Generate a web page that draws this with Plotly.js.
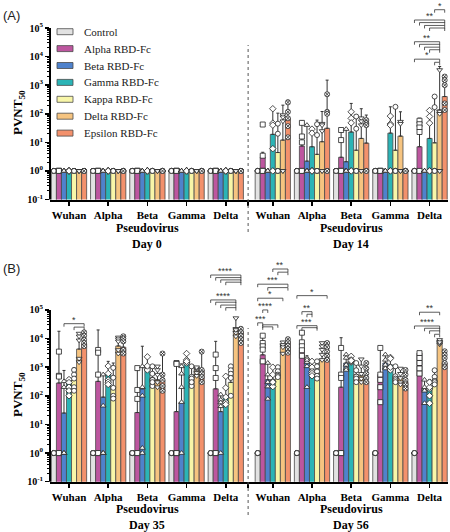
<!DOCTYPE html>
<html><head><meta charset="utf-8">
<script src="https://cdn.plot.ly/plotly-3.0.1.min.js"></script>
<style>html,body{margin:0;padding:0;background:#fff;} #chart{width:450px;height:532px;}</style>
</head><body><div id="chart"></div>
<script>
// ---------- categories / series ----------
const seriesNames = ['Control','Alpha RBD-Fc','Beta RBD-Fc','Gamma RBD-Fc','Kappa RBD-Fc','Delta RBD-Fc','Epsilon RBD-Fc'];
const seriesColors = ['#e2e2e2','#bd569f','#4f82cc','#2bb4b6','#f8f6a8','#f6c480','#f3916c'];
const seriesSymbols = ['circle','square','triangle-up','diamond','circle','triangle-down','circle-x'];
const pseudoviruses = ['Wuhan','Alpha','Beta','Gamma','Delta'];
const groupPos = [0,1,2,3,4,5.2,6.2,7.2,8.2,9.2];
const dividerPos = 4.57;
const daysA = ['Day 0','Day 14'];
const daysB = ['Day 35','Day 56'];
const yTickVals = [0.1,1,10,100,1000,10000,100000];
const yTickText = ['10<sup>-1</sup>','10<sup>0</sup>','10<sup>1</sup>','10<sup>2</sup>','10<sup>3</sup>','10<sup>4</sup>','10<sup>5</sup>'];

// ---------- Panel A (Day 0 groups 0-4, Day 14 groups 5-9) ----------
const aMeanControl = [1,1,1,1,1, 1,1,1,1,1];
const aMeanAlpha   = [1,1,1,1,1, 3,7.4,3,1,7];
const aMeanBeta    = [1,1,1,1,1, 1,2.2,2.1,1,1];
const aMeanGamma   = [1,1,1,1,1, 19,7,23,21,13.7];
const aMeanKappa   = [1,1,1,1,1, 4.4,3.8,5.3,5.3,9.6];
const aMeanDelta   = [1,1,1,1,1, 12,10.5,13.7,16.5,135];
const aMeanEpsilon = [1,1,1,1,1, 70,31,9.4,1,400];

const aTopControl = [null,null,null,null,null, null,null,null,null,null];
const aTopAlpha   = [null,null,null,null,null, 4.5,57,31,null,70];
const aTopBeta    = [null,null,null,null,null, null,40,30,null,null];
const aTopGamma   = [null,null,null,null,null, 150,32,230,175,130];
const aTopKappa   = [null,null,null,null,null, 105,60,90,190,400];
const aTopDelta   = [null,null,null,null,null, 200,120,150,117,4500];
const aTopEpsilon = [null,null,null,null,null, 300,1500,90,null,1500];

const ones = [1,1,1,1,1];
const aPtsControl = [ones,ones,ones,ones,ones, ones,ones,ones,ones,ones];
const aPtsAlpha   = [ones,ones,ones,ones,ones, [42,3.4,1,1,1],[48,16,10,1,1],[27,12,1,1,1],ones,[57,43,33,23,1]];
const aPtsBeta    = [ones,ones,ones,ones,ones, ones,[40,1,1,1,1],[29,1,1,1,1],ones,ones];
const aPtsGamma   = [ones,ones,ones,ones,ones, [150,47,40,6,1],[29,21,1,1,1],[117,69,48,1,1],[83,44,40,1,1],[130,80,47,1,1]];
const aPtsKappa   = [ones,ones,ones,ones,ones, [45,20,1,1,1],[43,18,1,1,1],[80,30,1,1,1],[175,1,1,1,1],[400,170,1,1,1]];
const aPtsDelta   = [ones,ones,ones,ones,ones, [90,76,55,1,1],[45,40,25,1,1],[70,55,40,1,1],[53,45,1,1,1],[3400,120,100,1,1]];
const aPtsEpsilon = [ones,ones,ones,ones,ones, [250,117,69,37,15],[480,117,100,1,1],[60,47,40,1,1],ones,[2000,1500,1000,230,135]];

// ---------- Panel B (Day 35 groups 0-4, Day 56 groups 5-9) ----------
const bMeanControl = [1,1,1,1,1, 1,1,1,1,1];
const bMeanAlpha   = [280,320,26,28,175, 2700,4100,200,550,3100];
const bMeanBeta    = [25,90,175,59,28, 365,1800,1400,1400,175];
const bMeanGamma   = [280,590,1070,1800,95, 365,820,1800,1200,175];
const bMeanKappa   = [370,210,420,450,295, 630,710,550,480,365];
const bMeanDelta   = [4300,5500,360,810,22000, 5600,1800,500,420,8000];
const bMeanEpsilon = [6600,5000,350,800,18000, 8000,1900,320,320,1400];

const bTopControl = [null,null,null,null,null, null,null,null,null,null];
const bTopAlpha   = [18000,20000,930,1400,8000, 12600,16000,10700,4700,3100];
const bTopBeta    = [770,550,5400,1300,110, 1400,2500,2750,2750,360];
const bTopGamma   = [430,1600,2300,3000,460, 1000,1600,2500,2200,360];
const bTopKappa   = [940,1400,1070,1070,1070, 1100,1600,1400,1070,780];
const bTopDelta   = [15000,11000,1070,1000,52000, 8000,7400,1900,900,9000];
const bTopEpsilon = [16000,12000,3000,3500,25000, 11000,7000,1400,800,3600];

const bPtsControl = [ones,ones,ones,ones,ones, ones,ones,ones,ones,ones];
const bPtsAlpha   = [[3500,500,470,1,1],[4000,3200,550,1,1],[930,160,78,1,1],[1400,1300,1,1,1],[2750,930,420,1,1],
                     [12600,7000,5400,4100,1600],[16000,7400,5400,3900,2500],[4700,550,420,1,1],[4700,550,360,200,60],[3100,2100,1400,900,600]];
const bPtsBeta    = [[320,200,1,1,1],[550,45,1,1,1],[1070,200,100,1.5,1],[1070,590,200,60,1],[110,72,58,43,1],
                     [1400,550,210,78,300],[2100,1070,200,1500,1800],[2750,2100,1200,900,800],[2750,1800,1000,900,1200],[360,175,55,150,200]];
const bPtsGamma   = [[370,290,200,150,100],[1100,600,360,300,250],[2300,1000,900,800,1100],[3000,1800,1500,1400,1600],[480,190,60,50,90],
                     [1000,550,320,210,300],[1600,1000,700,600,500],[2400,1500,1800,1600,1700],[2200,2000,900,800,1000],[175,100,55,200,300]];
const bPtsKappa   = [[800,550,400,200,150],[950,430,190,100,80],[1070,590,360,220,300],[1070,460,220,400,300],[1070,780,590,420,100],
                     [1000,720,550,500,450],[1600,1070,710,500,400],[1400,780,470,400,300],[1070,480,400,350,300],[780,460,330,300,250]];
const bPtsDelta   = [[15000,12000,8700,2000,1500],[11000,9500,8000,4000,3000],[1070,800,550,300,200],[800,630,500,900,1000],[52000,22000,16000,12000,20000],
                     [7400,5600,3000,6000,5000],[7000,5400,4100,2750,1800],[1900,1070,590,400,300],[900,590,420,300,250],[8000,6300,9000,7000,7500]];
const bPtsEpsilon = [[16500,12600,9100,7000,5400],[12000,10000,8000,4000,3000],[3000,550,360,220,150],[3500,800,600,450,300],[22000,16600,12600,9500,7000],
                     [9500,7400,5600,4300,3200],[7000,5000,3500,2500,1800],[1400,900,600,420,300],[800,550,360,250,180],[3600,2700,2100,1400,1000]];

// significance brackets: [group index, series from, series to, log10 height, label]
const bracketsA = [
  [9,4,6,5.64,'*'],
  [9,0,6,5.28,'**'],[9,1,6,5.19,''],[9,2,6,5.09,''],[9,3,6,5.00,''],
  [9,0,5,4.52,'**'],[9,1,5,4.43,''],[9,2,5,4.33,''],[9,3,5,4.24,''],
  [9,0,5,3.91,'*'],[9,4,5,3.80,'']
];
const bracketsB = [
  [0,2,6,4.52,'*'],[0,4,6,4.40,''],
  [4,0,6,6.22,'****'],[4,1,6,6.13,''],[4,2,6,6.05,''],[4,3,6,5.97,''],
  [4,0,5,5.35,'****'],[4,1,5,5.27,''],[4,2,5,5.17,''],[4,3,5,5.08,''],
  [5,3,6,6.43,'**'],[5,4,6,6.32,''],
  [5,0,6,5.90,'***'],[5,2,6,5.78,''],
  [5,0,5,5.41,'*'],
  [5,1,2,5.00,'****'],
  [5,0,1,4.55,'***'],[5,1,4,4.48,''],[5,1,3,4.41,''],
  [6,0,6,5.50,'*'],
  [6,1,3,4.94,'**'],[6,2,3,4.85,''],
  [6,0,4,4.45,'***'],[6,1,4,4.38,''],
  [9,1,5,4.92,'**'],
  [9,0,5,4.44,'****'],[9,2,5,4.36,''],[9,3,5,4.27,''],[9,4,5,4.15,'']
];

// ---------- geometry ----------
const W = 450, H = 532;
const xDom = [50/W, 448/W];
const xRange = [-0.485, 9.67];
const domA = [0.625, 1.0], rangeA = [-1, 5.98];
const domB = [0.0946, 0.5207], rangeB = [-1, 6.92];
const bargap = 0.1;
const bw = (1 - bargap) / seriesNames.length;
const serif = 'Liberation Serif, Times New Roman, serif';

function yPaper(dom, rng, lg){ return dom[0] + (lg - rng[0]) / (rng[1] - rng[0]) * (dom[1] - dom[0]); }
function pxToPaper(px){ return 1 - px / H; }
function sx(g, s){ return groupPos[g] + (s - (seriesNames.length - 1) / 2) * bw; }

const panels = [
  {xa:'x', ya:'y', dom:domA, rng:rangeA,
   means:[aMeanControl,aMeanAlpha,aMeanBeta,aMeanGamma,aMeanKappa,aMeanDelta,aMeanEpsilon],
   tops:[aTopControl,aTopAlpha,aTopBeta,aTopGamma,aTopKappa,aTopDelta,aTopEpsilon],
   pts:[aPtsControl,aPtsAlpha,aPtsBeta,aPtsGamma,aPtsKappa,aPtsDelta,aPtsEpsilon],
   brackets:bracketsA},
  {xa:'x2', ya:'y2', dom:domB, rng:rangeB,
   means:[bMeanControl,bMeanAlpha,bMeanBeta,bMeanGamma,bMeanKappa,bMeanDelta,bMeanEpsilon],
   tops:[bTopControl,bTopAlpha,bTopBeta,bTopGamma,bTopKappa,bTopDelta,bTopEpsilon],
   pts:[bPtsControl,bPtsAlpha,bPtsBeta,bPtsGamma,bPtsKappa,bPtsDelta,bPtsEpsilon],
   brackets:bracketsB}
];

const traces = [];
const shapes = [];
const annotations = [];

panels.forEach(function(p){
  for (let s = 0; s < seriesNames.length; s++){
    const mean = p.means[s];
    const err = p.tops[s].map(function(t, i){ return t == null ? null : t - mean[i]; });
    traces.push({
      type:'bar', name:seriesNames[s], x:groupPos, y:mean, xaxis:p.xa, yaxis:p.ya,
      legendgroup:seriesNames[s], showlegend:false,
      marker:{color:seriesColors[s], line:{color:'#4a4a4a', width:0.8}},
      error_y:{type:'data', array:err, symmetric:false, arrayminus:mean.map(function(){return 0;}),
               color:'#333', thickness:1, width:1.5},
      hoverinfo:'skip'
    });
  }
  for (let s = 0; s < seriesNames.length; s++){
    const xs = [], ys = [];
    p.pts[s].forEach(function(arr, g){ arr.forEach(function(v){ xs.push(sx(g, s)); ys.push(v); }); });
    traces.push({
      type:'scatter', mode:'markers', x:xs, y:ys, xaxis:p.xa, yaxis:p.ya, showlegend:false,
      legendgroup:seriesNames[s], cliponaxis:false, hoverinfo:'skip',
      marker:{symbol:seriesSymbols[s], size:5, color:'#fff', line:{color:'#222', width:0.8}}
    });
  }
  shapes.push({type:'line', xref:'paper', yref:'paper', x0:xDom[0], x1:xDom[0],
               y0:yPaper(p.dom, p.rng, -1), y1:yPaper(p.dom, p.rng, 5), line:{color:'#000', width:2}});
  const tick = 3 / H;
  p.brackets.forEach(function(b){
    const x1 = sx(b[0], b[1]), x2 = sx(b[0], b[2]);
    const yp = yPaper(p.dom, p.rng, b[3]);
    shapes.push({type:'path', xref:p.xa, yref:'paper',
      path:'M '+x1+','+(yp-tick)+' L '+x1+','+yp+' L '+x2+','+yp+' L '+x2+','+(yp-tick),
      line:{color:'#333', width:0.8}});
    if (b[4]) annotations.push({xref:p.xa, yref:'paper', x:(x1+x2)/2, y:yp, xanchor:'center', yanchor:'bottom', yshift:-3,
      text:b[4], showarrow:false, font:{family:'Liberation Sans, Arial, sans-serif', size:9, color:'#333'}});
  });
});

// dotted dividers
shapes.push({type:'line', xref:'x', yref:'paper', x0:dividerPos, x1:dividerPos, y0:pxToPaper(232), y1:pxToPaper(45),
             line:{color:'#555', width:1, dash:'dot'}});
shapes.push({type:'line', xref:'x2', yref:'paper', x0:dividerPos, x1:dividerPos, y0:pxToPaper(515), y1:pxToPaper(328),
             line:{color:'#555', width:1, dash:'dot'}});

// manual legend (inside panel A)
seriesNames.forEach(function(name, s){
  const cy = 31.7 + s * 16.9;
  shapes.push({type:'rect', xref:'paper', yref:'paper', x0:57/W, x1:73/W, y0:pxToPaper(cy+3), y1:pxToPaper(cy-3),
               fillcolor:seriesColors[s], line:{color:'#4a4a4a', width:0.8}});
  annotations.push({xref:'paper', yref:'paper', x:82/W, y:pxToPaper(cy), xanchor:'left', yanchor:'middle',
    text:name, showarrow:false, font:{family:serif, size:11, color:'#222'}});
});

// text annotations
const halfCenters = [2, 7.2];
[['x', 228, 244, daysA], ['x2', 509, 525, daysB]].forEach(function(cfg){
  halfCenters.forEach(function(c, k){
    annotations.push({xref:cfg[0], yref:'paper', x:c, y:pxToPaper(cfg[1]), xanchor:'center', yanchor:'middle',
      text:'Pseudovirus', showarrow:false, font:{family:serif, size:12, weight:700, color:'#000'}});
    annotations.push({xref:cfg[0], yref:'paper', x:c, y:pxToPaper(cfg[2]), xanchor:'center', yanchor:'middle',
      text:cfg[3][k], showarrow:false, font:{family:serif, size:12, weight:700, color:'#000'}});
  });
});
[113, 395].forEach(function(py){
  annotations.push({xref:'paper', yref:'paper', x:19/W, y:pxToPaper(py), xanchor:'center', yanchor:'middle',
    text:'PVNT<sub>50</sub>', textangle:-90, showarrow:false, font:{family:serif, size:13, weight:700, color:'#000'}});
});
annotations.push({xref:'paper', yref:'paper', x:1/W, xanchor:'left', yanchor:'middle', y:pxToPaper(15), text:'(A)',
  showarrow:false, font:{family:'Liberation Sans, Arial, sans-serif', size:13, color:'#222'}});
annotations.push({xref:'paper', yref:'paper', x:1/W, xanchor:'left', yanchor:'middle', y:pxToPaper(268), text:'(B)',
  showarrow:false, font:{family:'Liberation Sans, Arial, sans-serif', size:13, color:'#222'}});

// axes
const minorVals = [];
for (let e = -1; e < 5; e++) for (let m = 2; m < 10; m++) minorVals.push(m * Math.pow(10, e));
function xAxis(anchor){
  return {domain:xDom, range:xRange, anchor:anchor, showline:true, linewidth:2, linecolor:'#000',
    tickmode:'array', tickvals:groupPos.concat([dividerPos]),
    ticktext:pseudoviruses.concat(pseudoviruses).concat([' ']),
    ticks:'outside', ticklen:4, tickwidth:1.5, tickcolor:'#000', showgrid:false, zeroline:false,
    tickfont:{family:serif, size:11, weight:700, color:'#000'}};
}
function yAxis(anchor, dom, rng){
  return {type:'log', domain:dom, range:rng, anchor:anchor, showline:false, showgrid:false, zeroline:false,
    tickmode:'array', tickvals:yTickVals, ticktext:yTickText, ticks:'outside', ticklen:4, tickwidth:1.5, tickcolor:'#000',
    tickfont:{family:serif, size:10, weight:700, color:'#000'},
    minor:{tickmode:'array', tickvals:minorVals, ticks:'outside', ticklen:2, tickwidth:1, tickcolor:'#000'}};
}

const layout = {
  width:W, height:H, margin:{l:0, r:0, t:0, b:0}, paper_bgcolor:'#fff', plot_bgcolor:'rgba(0,0,0,0)',
  barmode:'group', bargap:bargap, bargroupgap:0, showlegend:false,
  xaxis:xAxis('y'), yaxis:yAxis('x', domA, rangeA),
  xaxis2:xAxis('y2'), yaxis2:yAxis('x2', domB, rangeB),
  shapes:shapes, annotations:annotations
};

Plotly.newPlot('chart', traces, layout, {staticPlot:true, displayModeBar:false});
</script>
</body></html>
